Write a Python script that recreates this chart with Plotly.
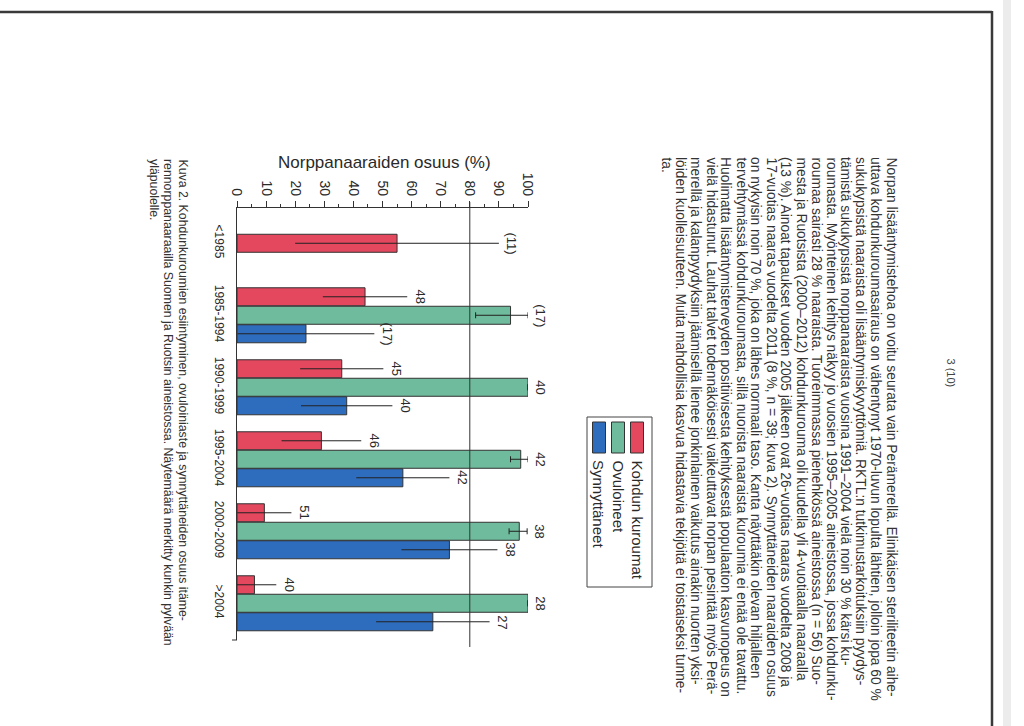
import plotly.graph_objects as go

# ---------------- data ----------------
categories = ["<1985", "1985-1994", "1990-1999", "1995-2004", "2000-2009", ">2004"]
series_names = ["Kohdun kuroumat", "Ovuloineet", "Synnyttäneet"]
series_colors = ["#E3485E", "#6FBB9D", "#2E6DBE"]

kurouma = [55, 44, 36, 29, 9.4, 6]
kurouma_err = [35, 14.5, 14.3, 13.7, 9.3, 7.5]
kurouma_n = ["(11)", "48", "45", "46", "51", "40"]

ovuloineet = [None, 94, 100, 97.5, 97, 100]
ovuloineet_err_minus = [None, 12, 0, 3.5, 3.5, 0]
ovuloineet_err_plus = [None, 6, 0, 2.5, 2.7, 0]
ovuloineet_n = [None, "(17)", "40", "42", "38", "28"]

synnyttaneet = [None, 23.7, 37.7, 57, 73, 67.3]
synnyttaneet_err = [None, 23.5, 15.7, 16, 16.5, 19.5]
synnyttaneet_n = [None, "(17)", "40", "42", "38", "27"]

x_ticks = [0, 10, 20, 30, 40, 50, 60, 70, 80, 90, 100]
reference_level = 80
axis_title = "Norppanaaraiden osuus (%)"

paragraph = [
    "Norpan lisääntymistehoa on voitu seurata vain Perämerellä. Elinikäisen steriliteetin aihe-",
    "uttava kohdunkuroumasairaus on vähentynyt 1970-luvun lopulta lähtien, jolloin jopa 60 %",
    "sukukypsistä naaraista oli lisääntymiskyvyttömiä. RKTL:n tutkimustarkoituksiin pyydys-",
    "tämistä sukukypsistä norppanaaraista vuosina 1991–2004 vielä noin 30 % kärsi ku-",
    "roumasta. Myönteinen kehitys näkyy jo vuosien 1995–2005 aineistossa, jossa kohdunku-",
    "roumaa sairasti 28 % naaraista. Tuoreimmassa pienehkössä aineistossa (n = 56) Suo-",
    "mesta ja Ruotsista (2000–2012) kohdunkurouma oli kuudella yli 4-vuotiaalla naaraalla",
    "(13 %). Ainoat tapaukset vuoden 2005 jälkeen ovat 26-vuotias naaras vuodelta 2008 ja",
    "17-vuotias naaras vuodelta 2011 (8 %, n = 39; kuva 2). Synnyttäneiden naaraiden osuus",
    "on nykyisin noin 70 %, joka on lähes normaali taso. Kanta näyttääkin olevan hiljalleen",
    "tervehtymässä kohdunkuroumasta, sillä nuorista naaraista kuroumia ei enää ole tavattu.",
    "Huolimatta lisääntymisterveyden positiivisesta kehityksestä populaation kasvunopeus on",
    "vielä hidastunut. Lauhat talvet todennäköisesti vaikeuttavat norpan pesintää myös Perä-",
    "merellä ja kalanpyydyksiin jäämisellä lienee jonkinlainen vaikutus ainakin nuorten yksi-",
    "löiden kuolleisuuteen. Muita mahdollisia kasvua hidastavia tekijöitä ei toistaiseksi tunne-",
    "ta.",
]
caption = [
    "Kuva 2. Kohdunkuroumien esiintyminen, ovuloiniaste ja synnyttäneiden osuus itäme-",
    "rennorppanaaraailla Suomen ja Ruotsin aineistossa. Näytemäärä merkitty kunkin pylvään",
    "yläpuolelle.",
]
page_number = "3 (10)"

# ---------------- layout helpers ----------------
W, H = 1024, 726
L, R, T, B = 237, 496, 208, 86
PW, PH = W - L - R, H - T - B


def px(x):
    return (x - L) / PW


def py(y):
    return 1 - (y - T) / PH


def esc(s):
    return s.replace("<", "&lt;").replace(">", "&gt;")


FONT = "Liberation Sans, Arial, sans-serif"
INK = "#2a2a2a"

values = [kurouma, ovuloineet, synnyttaneet]
err_minus = [kurouma_err, ovuloineet_err_minus, synnyttaneet_err]
err_plus = [kurouma_err, ovuloineet_err_plus, synnyttaneet_err]
counts = [kurouma_n, ovuloineet_n, synnyttaneet_n]

STEP = 0.257
BAR_W = 0.25

# position of every bar: bars present in a category are centred on it
positions = [[None] * len(categories) for _ in values]
for i in range(len(categories)):
    present = [s for s in range(len(values)) if values[s][i] is not None]
    n = len(present)
    for k, s in enumerate(present):
        positions[s][i] = i + (k - (n - 1) / 2) * STEP

fig = go.Figure()
annotations = []
for s, name in enumerate(series_names):
    xs, ys, em, ep = [], [], [], []
    for i in range(len(categories)):
        if values[s][i] is None:
            continue
        xs.append(values[s][i])
        ys.append(positions[s][i])
        em.append(err_minus[s][i])
        ep.append(err_plus[s][i])
        if counts[s][i]:
            annotations.append(dict(
                x=values[s][i] + err_plus[s][i], y=positions[s][i], xref="x", yref="y",
                text=counts[s][i], showarrow=False, textangle=90,
                xanchor="center", yanchor="middle", xshift=13,
                font=dict(family=FONT, size=13, color=INK)))
    fig.add_trace(go.Bar(
        x=xs, y=ys, orientation="h", width=BAR_W, name=name,
        marker=dict(color=series_colors[s], line=dict(color="#333333", width=1)),
        error_x=dict(type="data", symmetric=False, array=ep, arrayminus=em,
                     color="#222222", thickness=1, width=3 if s == 1 else 0),
        showlegend=False,
    ))

# axis title (horizontal)
annotations.append(dict(x=px(384), y=py(163), xref="paper", yref="paper", text=axis_title,
                        showarrow=False, xanchor="center", yanchor="middle",
                        font=dict(family=FONT, size=17, color=INK)))

# paragraph, rotated
for i, line in enumerate(paragraph):
    annotations.append(dict(x=px(891 - 15 * i), y=py(155), xref="paper", yref="paper",
                            text=line, showarrow=False, textangle=90,
                            xanchor="center", yanchor="top",
                            font=dict(family=FONT, size=13.8, color="#333333")))
# caption, rotated
for i, line in enumerate(caption):
    annotations.append(dict(x=px(183 - 14.5 * i), y=py(157), xref="paper", yref="paper",
                            text=line, showarrow=False, textangle=90,
                            xanchor="center", yanchor="top",
                            font=dict(family=FONT, size=12.3, color="#333333")))
annotations.append(dict(x=px(951), y=py(356), xref="paper", yref="paper",
                        text=page_number, showarrow=False, textangle=90,
                        xanchor="center", yanchor="top",
                        font=dict(family=FONT, size=11, color="#444444")))

shapes = []
# reference line
shapes.append(dict(type="line", xref="x", yref="paper", x0=reference_level, x1=reference_level,
                   y0=py(202), y1=py(647), line=dict(color="#333333", width=1)))
# small bottom tick on category axis
shapes.append(dict(type="line", xref="paper", yref="paper", x0=px(232), x1=px(237),
                   y0=py(640), y1=py(640), line=dict(color="#333333", width=1)))

# manual rotated legend
shapes.append(dict(type="rect", xref="paper", yref="paper", x0=px(587), x1=px(652),
                   y0=py(417), y1=py(587), line=dict(color="#444444", width=1),
                   fillcolor="rgba(0,0,0,0)"))
for s, name in enumerate(series_names):
    cx = 637 - 19 * s
    shapes.append(dict(type="rect", xref="paper", yref="paper", x0=px(cx - 6.5), x1=px(cx + 6.5),
                       y0=py(422), y1=py(453), line=dict(color="#333333", width=1),
                       fillcolor=series_colors[s]))
    annotations.append(dict(x=px(cx), y=py(458), xref="paper", yref="paper", text=name,
                            showarrow=False, textangle=90, xanchor="center", yanchor="top",
                            font=dict(family=FONT, size=15, color=INK)))

# page frame of the scan
shapes.append(dict(type="line", xref="paper", yref="paper", x0=px(0), x1=px(992),
                   y0=py(12), y1=py(12), line=dict(color="#3a3a3a", width=2.5)))
shapes.append(dict(type="line", xref="paper", yref="paper", x0=px(992), x1=px(992),
                   y0=py(11), y1=py(726), line=dict(color="#3a3a3a", width=2.5)))
shapes.append(dict(type="rect", xref="paper", yref="paper", x0=px(1003), x1=px(1011),
                   y0=py(0), y1=py(726), line=dict(width=0), fillcolor="#ececec"))

fig.update_layout(
    width=W, height=H,
    margin=dict(l=L, r=R, t=T, b=B, autoexpand=False),
    paper_bgcolor="white", plot_bgcolor="white",
    barmode="overlay",
    showlegend=False,
    annotations=annotations,
    shapes=shapes,
    font=dict(family=FONT, color=INK),
    xaxis=dict(
        side="top", range=[0, 100], tickvals=x_ticks, ticktext=[str(v) for v in x_ticks],
        tickangle=90, ticks="outside", ticklen=6, tickcolor="#333333",
        minor=dict(dtick=5, tick0=0, ticks="outside", ticklen=3, tickcolor="#333333"),
        showline=True, linecolor="#333333", linewidth=1,
        showgrid=False, zeroline=False, tickfont=dict(size=14, family=FONT, color=INK),
    ),
    yaxis=dict(
        range=[5.51, -0.49], tickvals=list(range(len(categories))),
        ticktext=[esc(c) for c in categories], tickangle=90, ticks="",
        ticklabelstandoff=7,
        showline=True, linecolor="#333333", linewidth=1,
        showgrid=False, zeroline=False, tickfont=dict(size=12, family=FONT, color=INK),
    ),
)

fig.write_html("out.html", config={"displayModeBar": False},
               post_script="document.body.style.margin='0';document.body.style.overflow='hidden';")
